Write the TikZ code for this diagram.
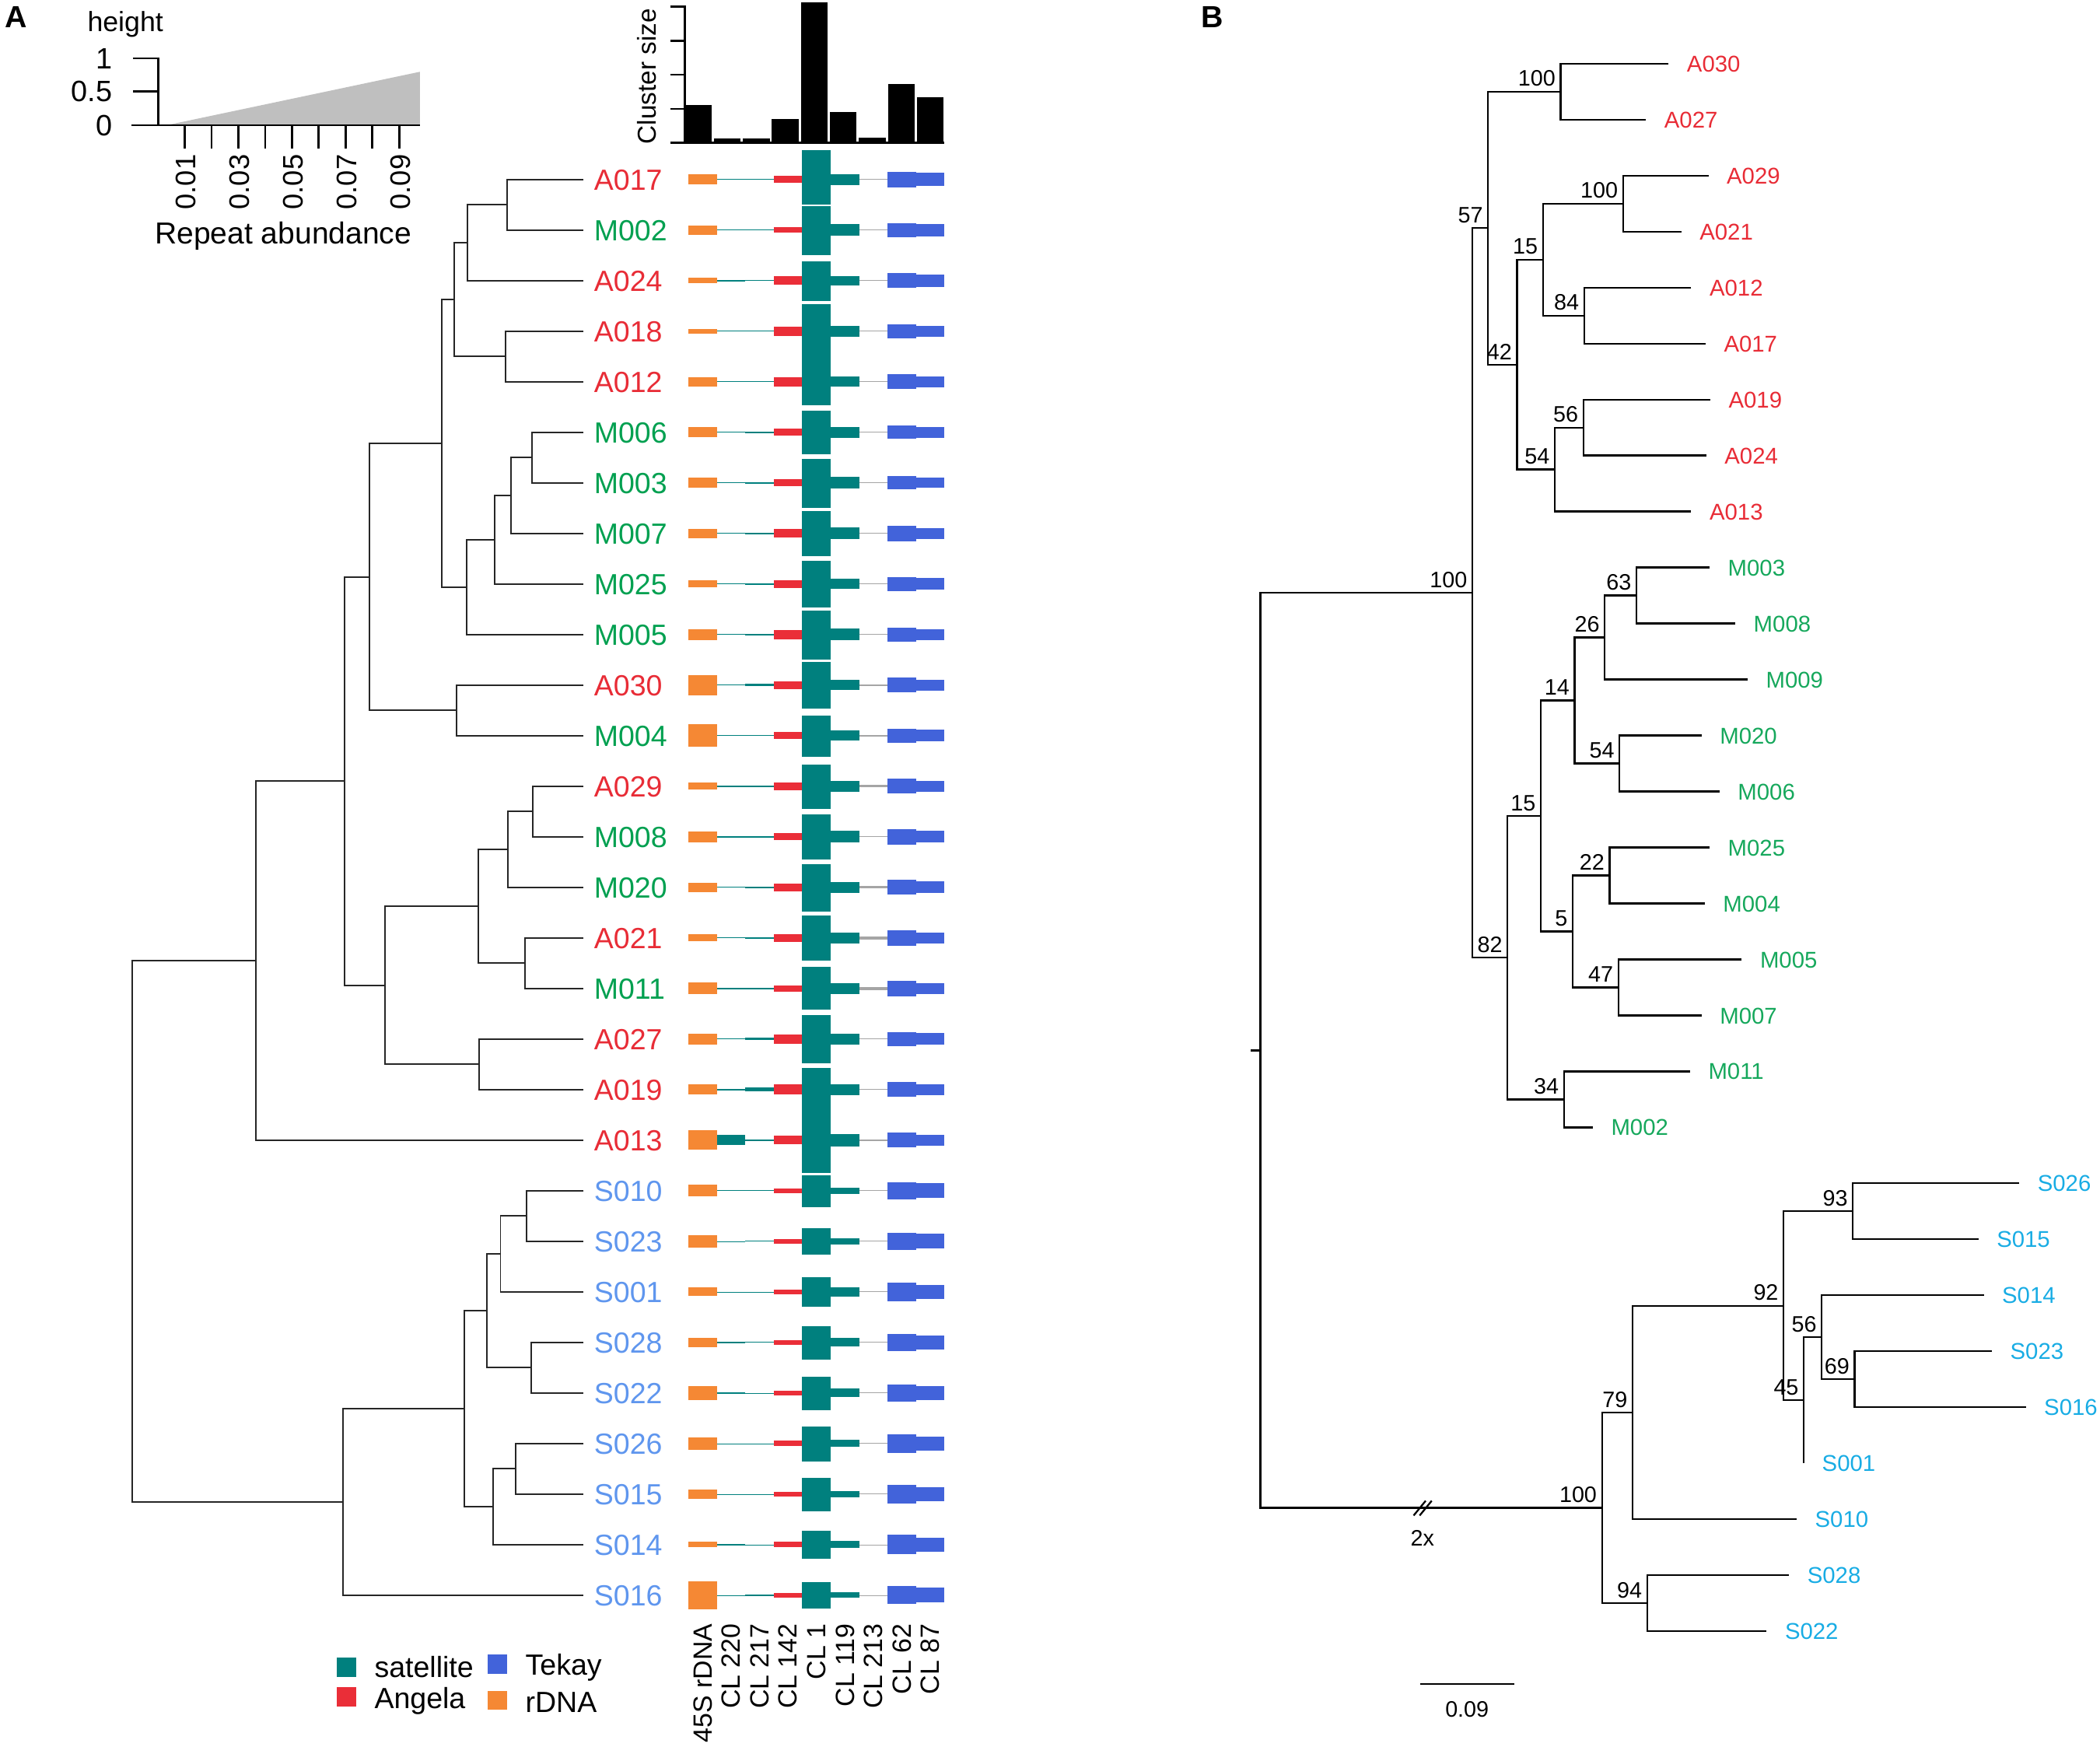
\documentclass[tikz,border=0pt]{standalone}
\usepackage{fontspec}
\setmainfont{Liberation Sans}
\usepackage{tikz}
\usetikzlibrary{calc}
\definecolor{csat}{RGB}{0,128,126}
\definecolor{cang}{RGB}{234,46,56}
\definecolor{ctek}{RGB}{66,99,218}
\definecolor{crdna}{RGB}{245,136,52}
\definecolor{cgray}{RGB}{165,165,165}
\definecolor{labA}{RGB}{232,44,54}
\definecolor{labM}{RGB}{0,160,80}
\definecolor{labS}{RGB}{95,150,238}
\definecolor{labMb}{RGB}{22,168,92}
\definecolor{labSb}{RGB}{24,172,228}
\tikzstyle{treeA} = [draw=black!85, line width=0.65pt]
\tikzstyle{treeB} = [draw=black, line width=0.75pt]
\tikzstyle{axisln} = [draw, line width=0.9pt]
\tikzstyle{leafA} = [anchor=base west, inner sep=0pt, xshift=4.3pt, yshift=-4.4pt, font=\fontsize{12.4}{14}\selectfont]
\tikzstyle{leafB} = [anchor=base west, inner sep=0pt, xshift=7.6pt, yshift=-3.5pt, font=\fontsize{9.7}{11}\selectfont]
\tikzstyle{supp} = [anchor=south east, inner sep=2pt, font=\fontsize{9.5}{11}\selectfont]
\tikzstyle{ticklab} = [inner sep=0pt, font=\fontsize{12}{14}\selectfont]
\tikzstyle{collab} = [rotate=90, anchor=east, inner sep=0pt, font=\fontsize{11.2}{13}\selectfont]
\tikzstyle{legtxt} = [anchor=base west, inner sep=0pt, yshift=-4.4pt, font=\fontsize{12.4}{14}\selectfont]
\tikzstyle{panel} = [inner sep=0pt, font=\fontsize{13}{15}\selectfont\bfseries]

\newcommand\clade[5][treeA]{%
  \coordinate (tmpc) at ($(#4)!.5!(#5)$);
  \coordinate (#2) at (#3,0 |- tmpc);
  \draw[#1] (#4) -| (#2) |- (#5);}
\newcommand\bclade[5]{\clade[treeB]{#1}{#2}{#3}{#4}\node[supp] (s#1) at (#1) {#5};}
\newcommand\seg[4]{\fill[#1] (#2,{\yy-#4/2}) rectangle (#3,{\yy+#4/2});}

\begin{document}
\begin{tikzpicture}[x=0.02cm, y=-0.02cm]
    \useasboundingbox (0,0) rectangle (1568,1304);
    \node[panel] (pa) at (12,13) {A};
    \node[panel] (pb) at (905,13) {B};

    \fill[gray!50] (124.4,93.5) -- (313.5,53.6) -- (313.5,93.5) -- cycle;
    \draw[axisln] (99.5,43.6) -- (118,43.6) -- (118,93.5);
    \draw[axisln] (99.5,68.3) -- (118,68.3);
    \draw[axisln] (98,93.5) -- (313.5,93.5);
    \foreach \k in {0,...,8} \draw[axisln] ({138+20*\k},93.5) -- ({138+20*\k},111);
    \foreach \v/\yv [count=\k] in {1/43.6, 0.5/68.3, 0/93.5}
        \node[ticklab, anchor=east, font=\fontsize{12.5}{14}\selectfont] (hv\k) at (84,\yv) {\v};
    \foreach \v [count=\k] in {0.01,0.03,0.05,0.07,0.09}
        \node[ticklab, rotate=90, anchor=east] (ha\k) at ({139+40*(\k-1)},115) {\v};
    \node[ticklab, font=\fontsize{11.8}{13}\selectfont] (hlab) at (93.6,18.4) {height};
    \node[ticklab, font=\fontsize{12.9}{15}\selectfont] (ralab) at (211.5,176.2) {Repeat abundance};

    \foreach \t [count=\k] in {78.4,103.5,103.5,89,1.9,83.8,102.6,62.9,72.6}
        \fill ({511.4+21.65*(\k-1)},\t) rectangle ({531.4+21.65*(\k-1)},106.5);
    \draw[axisln] (500.4,4.8) -- (511.4,4.8) -- (511.4,106.5);
    \foreach \yv in {30.4,55.7,81.3} \draw[axisln] (500.4,\yv) -- (511.4,\yv);
    \draw[axisln] (500.4,106.5) -- (705,106.5);
    \node[ticklab, rotate=90, font=\fontsize{11}{13}\selectfont] (cslab) at (483,57) {Cluster size};

    \foreach \hO/\hA/\hB/\hC/\hD/\hE/\hF/\hG [count=\i] in {
        7.7/0.4/0.6/5.4/8.3/0.6/11.4/9.7, 7.2/0.8/0.4/4.3/8.7/0.6/10.5/9.1,
        3.9/1.4/0.6/6.2/6.8/0.6/11.2/9.1, 3.3/0.4/0.4/7.0/7.9/0.8/10.6/8.1,
        7.2/0.8/0.8/7.2/7.5/0.8/10.8/7.9, 7.5/0.4/1.0/5.4/8.1/0.6/10.0/7.9,
        7.5/0.4/1.0/5.2/8.7/0.6/9.9/7.7, 7.0/0.5/1.3/6.2/8.6/0.8/11.9/8.0,
        5.4/0.5/1.3/5.7/7.5/0.8/10.4/8.8, 8.0/0.5/1.0/7.0/8.8/0.8/10.6/8.3,
        15.3/0.5/1.8/5.7/7.8/1.0/10.9/8.0, 16.6/0.5/0.5/5.4/7.5/1.0/10.4/8.6,
        5.2/1.0/1.0/6.0/8.0/1.6/10.9/8.3, 8.0/1.0/1.0/5.4/8.6/0.8/11.4/8.8,
        7.0/0.5/1.3/5.7/8.3/1.6/11.1/8.8, 5.2/0.5/1.0/6.0/8.3/2.0/11.4/8.3,
        8.6/1.0/1.0/4.7/7.8/2.0/11.4/8.0, 7.8/0.5/1.8/6.7/8.0/0.8/10.4/8.6,
        7.7/1.4/2.8/7.4/8.0/0.7/10.9/8.0, 14.4/7.7/1.0/6.3/9.5/1.0/10.9/8.4,
        8.8/0.4/0.7/3.5/4.6/0.7/12.6/11.2, 9.5/0.3/0.7/3.5/4.6/0.7/13.0/11.2,
        6.3/0.3/0.3/3.5/6.7/0.4/14.0/10.2, 7.0/1.4/0.7/3.5/6.3/0.7/13.0/10.2,
        10.2/1.4/0.3/3.5/6.3/0.4/13.0/10.2, 9.1/0.3/0.3/3.9/5.3/0.4/14.0/10.5,
        6.7/0.3/0.3/3.5/4.6/0.4/14.0/10.5, 3.9/1.0/0.3/3.9/5.3/0.4/14.4/10.5,
        21.0/0.3/1.0/3.5/4.2/0.4/13.3/10.9}{
        \pgfmathsetmacro\yy{134+37.75*(\i-1)}
        \seg{crdna}{514}{535.25}{\hO}
        \seg{csat}{535.25}{556.5}{\hA}
        \seg{csat}{556.5}{577.75}{\hB}
        \seg{cang}{577.75}{599}{\hC}
        \seg{csat}{620.25}{641.5}{\hD}
        \seg{cgray}{641.5}{662.75}{\hE}
        \seg{ctek}{662.75}{684}{\hF}
        \seg{ctek}{684}{705.25}{\hG}
    }
    \foreach \ta/\tb in {112.3/152.5, 153.9/190.3, 195.1/224.5, 227/302.6, 306.4/339.3,
        342.6/379, 381.7/415.4, 419/453.3, 455.9/492.2, 494.2/529, 534.2/564.8,
        570.7/603.7, 607.8/641.7, 645.2/680.4, 683.5/717.2, 722.1/754, 757.7/794.1,
        797.6/875.7, 877.5/901.3, 917/937, 953.7/975.8, 990.1/1015, 1028/1053,
        1065/1091, 1103.2/1128.4, 1142.7/1163.8, 1181.2/1201.1}
        \fill[csat] (599,\ta) rectangle (620.25,\tb);
    \foreach \lab [count=\k] in {45S rDNA, CL 220, CL 217, CL 142, CL 1, CL 119, CL 213, CL 62, CL 87}
        \node[collab] (cl\k) at ({514+21.25*(\k-0.5)},1212) {\lab};

    \fill[csat] (251.6,1237.3) rectangle (266.1,1252);
    \fill[cang] (251.6,1259.8) rectangle (266.1,1274.1);
    \fill[ctek] (364.3,1235.4) rectangle (378.4,1249.5);
    \fill[crdna] (364.3,1262.7) rectangle (378.4,1276.6);
    \node[legtxt] (lgsat) at (279.3,1244.7) {satellite};
    \node[legtxt] (lgang) at (279.3,1267.9) {Angela};
    \node[legtxt] (lgtek) at (392,1242.7) {Tekay};
    \node[legtxt] (lgrdna) at (392,1270.8) {rDNA};

    \foreach \nm/\cl [count=\i] in {A017/labA, M002/labM, A024/labA, A018/labA, A012/labA,
        M006/labM, M003/labM, M007/labM, M025/labM, M005/labM, A030/labA, M004/labM,
        A029/labA, M008/labM, M020/labM, A021/labA, M011/labM, A027/labA, A019/labA,
        A013/labA, S010/labS, S023/labS, S001/labS, S028/labS, S022/labS, S026/labS,
        S015/labS, S014/labS, S016/labS}{
        \coordinate (a\nm) at (435.7,{134+37.75*(\i-1)});
        \node[leafA, text=\cl] (la\nm) at (a\nm) {\nm};
    }
    \clade{n1}{378.7}{aA017}{aM002}
    \clade{n2}{349}{n1}{aA024}
    \clade{n3}{377.3}{aA018}{aA012}
    \clade{n4}{339}{n2}{n3}
    \clade{n5}{397.3}{aM006}{aM003}
    \clade{n6}{381.3}{n5}{aM007}
    \clade{n7}{369.3}{n6}{aM025}
    \clade{n8}{348.3}{n7}{aM005}
    \clade{n9}{329.7}{n4}{n8}
    \clade{n10}{340.7}{aA030}{aM004}
    \clade{n11}{276}{n9}{n10}
    \clade{n12}{398}{aA029}{aM008}
    \clade{n13}{379.3}{n12}{aM020}
    \clade{n14}{392}{aA021}{aM011}
    \clade{n15}{357}{n13}{n14}
    \clade{n16}{358}{aA027}{aA019}
    \clade{n17}{287.7}{n15}{n16}
    \clade{n18}{257.3}{n11}{n17}
    \clade{n19}{191}{n18}{aA013}
    \clade{n20}{393.3}{aS010}{aS023}
    \clade{n21}{373.7}{n20}{aS001}
    \clade{n22}{396.7}{aS028}{aS022}
    \clade{n23}{363.3}{n21}{n22}
    \clade{n24}{385}{aS026}{aS015}
    \clade{n25}{368}{n24}{aS014}
    \clade{n26}{346.7}{n23}{n25}
    \clade{n27}{256}{n26}{aS016}
    \clade{n28}{99}{n19}{n27}

    \foreach \nm/\xt/\cl [count=\j] in {A030/1245.9/labA, A027/1229/labA, A029/1275.6/labA,
        A021/1255.4/labA, A012/1262.8/labA, A017/1273.5/labA, A019/1277/labA, A024/1274/labA,
        A013/1262.8/labA, M003/1276.5/labMb, M008/1295.7/labMb, M009/1304.9/labMb,
        M020/1270.5/labMb, M006/1283.9/labMb, M025/1276.5/labMb, M004/1272.9/labMb,
        M005/1300.5/labMb, M007/1270.5/labMb, M011/1261.9/labMb, M002/1189.3/labMb,
        S026/1507.7/labSb, S015/1477.2/labSb, S014/1481.2/labSb, S023/1487.3/labSb,
        S016/1512.6/labSb, S001/1346.8/labSb, S010/1341.5/labSb, S028/1335.8/labSb,
        S022/1319.1/labSb}{
        \coordinate (b\nm) at (\xt,{47.5+41.8*(\j-1)});
        \node[leafB, text=\cl] (lb\nm) at (b\nm) {\nm};
    }
    \bclade{bn1}{1165.3}{bA030}{bA027}{100}
    \bclade{bn2}{1211.8}{bA029}{bA021}{100}
    \bclade{bn3}{1182.8}{bA012}{bA017}{84}
    \bclade{bn4}{1152}{bn2}{bn3}{15}
    \bclade{bn5}{1182.2}{bA019}{bA024}{56}
    \bclade{bn6}{1160.9}{bn5}{bA013}{54}
    \bclade{bn7}{1132.7}{bn4}{bn6}{42}
    \bclade{bn8}{1111.1}{bn1}{bn7}{57}
    \bclade{bn9}{1221.9}{bM003}{bM008}{63}
    \bclade{bn10}{1198.2}{bn9}{bM009}{26}
    \bclade{bn11}{1209.2}{bM020}{bM006}{54}
    \bclade{bn12}{1175.7}{bn10}{bn11}{14}
    \bclade{bn13}{1201.8}{bM025}{bM004}{22}
    \bclade{bn14}{1208.3}{bM005}{bM007}{47}
    \bclade{bn15}{1174.2}{bn13}{bn14}{5}
    \bclade{bn16}{1150.5}{bn12}{bn15}{15}
    \bclade{bn17}{1167.7}{bM011}{bM002}{34}
    \bclade{bn18}{1125.6}{bn16}{bn17}{82}
    \bclade{bn19}{1099.3}{bn8}{bn18}{100}
    \bclade{bn20}{1383.4}{bS026}{bS015}{93}
    \bclade{bn21}{1384.7}{bS023}{bS016}{69}
    \bclade{bn22}{1360.2}{bS014}{bn21}{56}
    \bclade{bn23}{1346.8}{bn22}{bS001}{45}
    \bclade{bn24}{1331.7}{bn20}{bn23}{92}
    \bclade{bn25}{1218.9}{bn24}{bS010}{79}
    \bclade{bn26}{1229.9}{bS028}{bS022}{94}
    \bclade{bn27}{1196.1}{bn25}{bn26}{100}
    \clade[treeB]{bn28}{941.1}{bn19}{bn27}
    \coordinate (bstub) at ($(bn28)+(-7.5,0)$);
    \draw[treeB] (bn28) -- (bstub);
    \draw[treeB] (1055.5,1131.5) -- (1064.5,1120.5);
    \draw[treeB] (1060,1131.5) -- (1069,1120.5);
    \node[font=\fontsize{9.5}{11}\selectfont] (twox) at (1062,1148.5) {2x};

    \coordinate (sb1) at (1060.4,1257.5);
    \coordinate (sb2) at (1130.9,1257.5);
    \draw[treeB] (sb1) -- (sb2);
    \node[font=\fontsize{9.5}{11}\selectfont] (sblab) at (1095.4,1276) {0.09};
\end{tikzpicture}
\end{document}
